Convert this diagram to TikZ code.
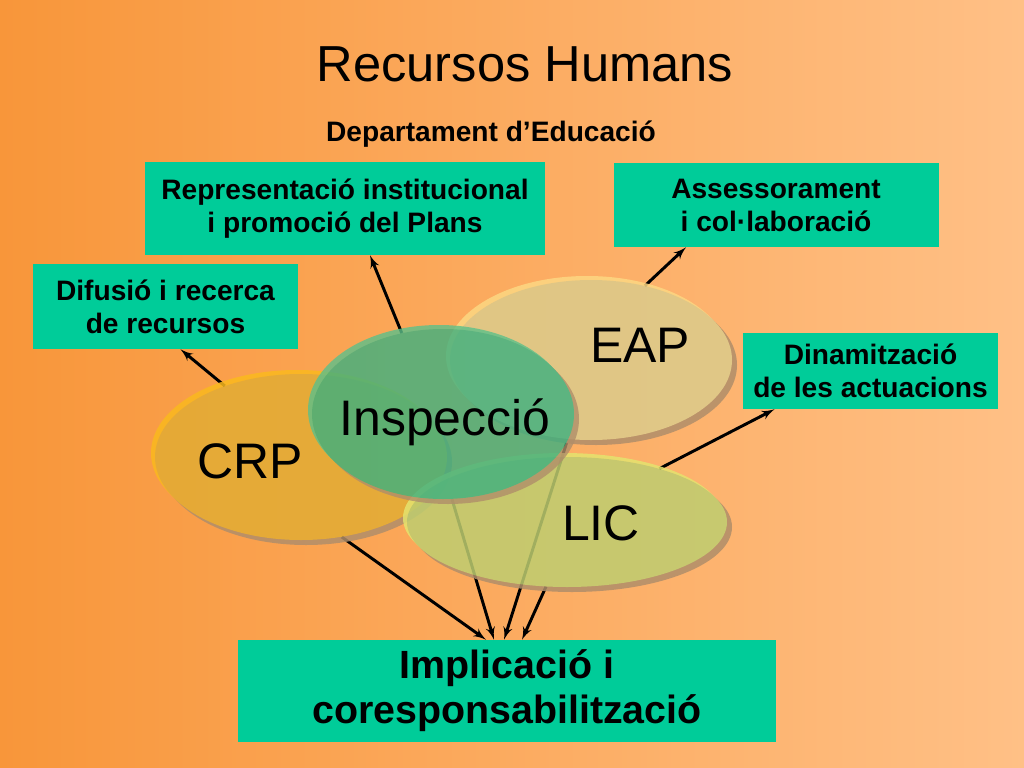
\documentclass[tikz,border=0pt]{standalone}
\usepackage{fontspec}
\setmainfont{Liberation Sans}
\usetikzlibrary{arrows,shapes,shadows,calc,positioning}
\newlength\px
\setlength\px{0.025cm}
\definecolor{bgleft}{HTML}{F8963A}
\definecolor{bgright}{HTML}{FFC086}
\definecolor{boxgreen}{HTML}{00CC99}
\definecolor{crpfill}{HTML}{E2AC34}
\definecolor{crplight}{HTML}{FAB91E}
\definecolor{inspfill}{HTML}{3DB07F}
\definecolor{insplight}{HTML}{5CC08A}
\definecolor{eapfill}{HTML}{DCCB8B}
\definecolor{eaplight}{HTML}{FCD782}
\definecolor{licfill}{HTML}{BECD70}
\definecolor{liclight}{HTML}{E4E36E}
\definecolor{blobdark}{HTML}{B08E6A}
\pgfdeclarelayer{bglayer}
\pgfdeclarelayer{linklayer}
\pgfsetlayers{bglayer,linklayer,main}
\tikzset{
  box/.style={
    % The shape:
    rectangle,
    inner sep=0pt,
    % The filling:
    fill=boxgreen,
    % Font
    font=\fontsize{20}{23.5}\selectfont\bfseries,
    align=center
  },
  blob/.style 2 args={
    % The shape:
    ellipse,
    inner sep=0pt,
    % The filling:
    fill=#1,
    % light rim at the top left, dark rim at the bottom right
    general shadow={shadow xshift=-4\px, shadow yshift=4\px, fill=#2},
    general shadow={shadow xshift=5\px, shadow yshift=-5\px, fill=blobdark}
  },
  tag/.style={
    anchor=base,
    font=\fontsize{35.5}{40}\selectfont
  },
  title/.style={
    anchor=base,
    font=\fontsize{36}{40}\selectfont
  }
}
\tikzstyle{line} = [draw, line width=2.1pt, -latex']

\begin{document}
\begin{tikzpicture}[x=0.025cm, y=-0.025cm]
\begin{pgfonlayer}{bglayer}
\shade [left color=bgleft, right color=bgright] (0,0) rectangle (1024,768);
\end{pgfonlayer}
\node [title] (title) at (525,82) {Recursos Humans};
\node [title, font=\fontsize{20}{23.5}\selectfont\bfseries] (dept) at (491,142) {Departament d’Educació};
% Boxes
\node [box, minimum width=400\px, minimum height=93\px] (repr) at (345,208.5) {Representació institucional\\i promoció del Plans};
\node [box, minimum width=325\px, minimum height=84\px] (asses) at (776,205) {Assessorament\\i col·laboració};
\node [box, minimum width=265\px, minimum height=85\px] (difu) at (165.5,306.5) {Difusió i recerca\\de recursos};
\node [box, minimum width=255\px, minimum height=76\px] (dinam) at (870.5,371) {Dinamització\\de les actuacions};
\node [box, font=\fontsize{28}{32}\selectfont\bfseries, minimum width=538\px, minimum height=102\px] (impl) at (507,691) {Implicació i\\coresponsabilització};
% Ellipses
\begin{scope}[transparency group, opacity=0.85]
\node [blob={crpfill}{crplight}, minimum width=292\px, minimum height=166\px] (crp) at (301,457) {};
\end{scope}
\begin{scope}[transparency group, opacity=0.85]
\node [blob={eapfill}{eaplight}, minimum width=282\px, minimum height=160\px] (eap) at (591,360) {};
\end{scope}
\begin{scope}[transparency group, opacity=0.85]
\node [blob={licfill}{liclight}, minimum width=320\px, minimum height=130\px] (lic) at (567,522) {};
\end{scope}
\begin{scope}[transparency group, opacity=0.8]
\node [blob={inspfill}{insplight}, minimum width=262\px, minimum height=170\px] (insp) at (443,414) {};
\end{scope}
\node [tag] (crptext) at (250,478) {CRP};
\node [tag] (eaptext) at (640,362) {EAP};
\node [tag] (lictext) at (601,540) {LIC};
\node [tag] (insptext) at (445,435) {Inspecció};
% Draw edges
\begin{pgfonlayer}{linklayer}
\path [line] (crp.137) -- ($(difu.south)+(15,0)$);
\path [line] (insp.117) -- ($(repr.south)+(25,0)$);
\path [line] (eap.54) -- ($(asses.south)+(-90,0)$);
\path [line] (lic.30) -- ($(dinam.south)+(-96,0)$);
\path [line] (crp.-63) -- ($(impl.north)+(-21,0)$);
\path [line] (insp.-84) -- ($(impl.north)+(-13,0)$);
\path [line] (insp.-13) -- ($(impl.north)+(-3,0)$);
\path [line] (lic.-108) -- ($(impl.north)+(15,0)$);
\end{pgfonlayer}
\end{tikzpicture}
\end{document}
